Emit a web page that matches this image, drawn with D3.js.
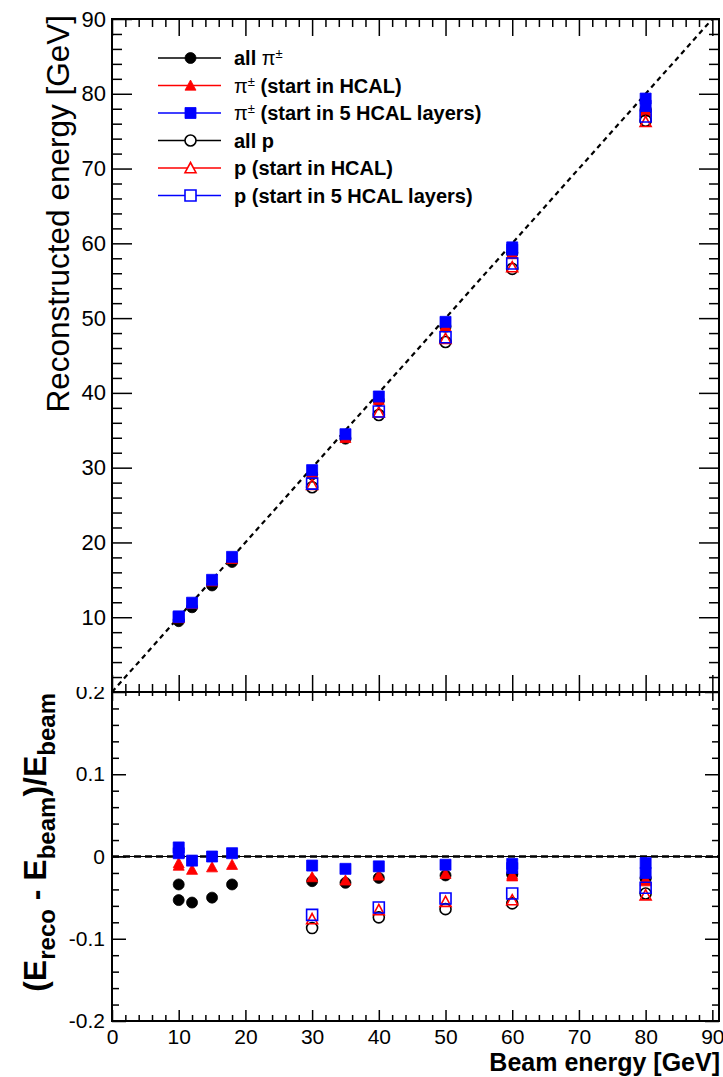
<!DOCTYPE html>
<html>
<head>
<meta charset="utf-8">
<script src="https://cdn.jsdelivr.net/npm/d3@7"></script>
<style>
  body { margin: 0; background: #fff; }
  svg { display: block; }
</style>
</head>
<body>
<svg id="chart"></svg>
<script>
(() => {
  const W = 723, H = 1077;
  const FONT = '"Liberation Sans", Arial, Helvetica, sans-serif';

  // ---- data (fractional residual (Ereco - Ebeam)/Ebeam)
  const beamPi = [10, 10, 12, 15, 18, 30, 35, 40, 50, 60, 60, 80, 80];
  const piAll  = [-0.034, -0.053, -0.056, -0.050, -0.034, -0.030, -0.032, -0.026, -0.023, -0.021, -0.022, -0.026, -0.027];
  const piHcal = [-0.008, -0.011, -0.016, -0.013, -0.010, -0.025, -0.029, -0.023, -0.021, -0.022, -0.024, -0.028, -0.030];
  const pi5    = [0.011, 0.004, -0.005, 0.000, 0.004, -0.011, -0.015, -0.012, -0.010, -0.009, -0.014, -0.008, -0.020];

  const beamP = [30, 40, 50, 60, 80];
  const pAll  = [-0.087, -0.074, -0.064, -0.057, -0.045];
  const pHcal = [-0.076, -0.065, -0.055, -0.053, -0.047];
  const p5    = [-0.071, -0.062, -0.051, -0.045, -0.038];

  const xTicks = [0, 10, 20, 30, 40, 50, 60, 70, 80, 90];
  const yTopTicks = [10, 20, 30, 40, 50, 60, 70, 80, 90];
  const yBotTicks = [-0.2, -0.1, 0, 0.1, 0.2];

  const series = [
    { beam: beamPi, frac: piAll,  shape: "circle",   color: "#000",    open: false, label: [["all ", "b"], ["π", "n"], ["±", "sup"]] },
    { beam: beamPi, frac: piHcal, shape: "triangle", color: "#ff0000", open: false, label: [["π", "n"], ["±", "sup"], [" (start in HCAL)", "b"]] },
    { beam: beamPi, frac: pi5,    shape: "square",   color: "#0000ff", open: false, label: [["π", "n"], ["±", "sup"], [" (start in 5 HCAL layers)", "b"]] },
    { beam: beamP,  frac: pAll,   shape: "circle",   color: "#000",    open: true,  label: [["all p", "b"]] },
    { beam: beamP,  frac: pHcal,  shape: "triangle", color: "#ff0000", open: true,  label: [["p (start in HCAL)", "b"]] },
    { beam: beamP,  frac: p5,     shape: "square",   color: "#0000ff", open: true,  label: [["p (start in 5 HCAL layers)", "b"]] }
  ];

  const svg = d3.select("#chart").attr("width", W).attr("height", H)
    .attr("viewBox", `0 0 ${W} ${H}`);

  const x = d3.scaleLinear().domain([0, 91]).range([112, 719]);
  const yTop = d3.scaleLinear().domain([0, 90]).range([692, 19]);
  const yBot = d3.scaleLinear().domain([-0.2, 0.2]).range([1021, 692]);

  const xMinor = d3.range(0, 91, 2).filter(v => v % 10 !== 0);
  const yTopMinor = d3.range(2, 91, 2).filter(v => v % 10 !== 0);
  const yBotMinor = d3.range(-10, 11).filter(i => i % 5 !== 0).map(i => i * 0.02);

  const fmtBot = d => d === 0 ? "0" : String(+d.toFixed(1));

  function addAxis(gen, tr, values, size, fmt, fontSize, pad) {
    const g = svg.append("g").attr("transform", tr)
      .call(gen.tickValues(values).tickSize(-size).tickSizeOuter(0)
        .tickPadding(pad || 3).tickFormat(fmt || (() => "")));
    g.select(".domain").remove();
    g.attr("font-family", FONT).attr("font-size", fontSize || 10);
    g.selectAll(".tick line").attr("stroke", "#000").attr("stroke-width", 1.5);
    g.selectAll(".tick text").attr("fill", "#000");
    return g;
  }

  function markerPath(shape, s) {
    const h = s / 2;
    if (shape === "square") return `M${-h},${-h}H${h}V${h}H${-h}Z`;
    if (shape === "triangle") return `M0,${-h}L${h},${h * 0.85}L${-h},${h * 0.85}Z`;
    return d3.symbol(d3.symbolCircle, Math.PI * h * h)();
  }

  function drawMarkers(g, s, yScale, valueOf) {
    g.append("g")
      .selectAll("path")
      .data(s.beam.map((b, i) => ({ b, v: valueOf(b, s.frac[i]) })))
      .join("path")
      .attr("transform", d => `translate(${x(d.b)},${yScale(d.v)})`)
      .attr("d", markerPath(s.shape, 11))
      .attr("fill", s.open ? "none" : s.color)
      .attr("stroke", s.color)
      .attr("stroke-width", s.open ? 1.6 : 0.8);
  }

  // ================= bottom panel =================
  addAxis(d3.axisLeft(yBot), "translate(112,0)", yBotTicks, 14, fmtBot, 21, 7);
  addAxis(d3.axisLeft(yBot), "translate(112,0)", yBotMinor, 7);
  addAxis(d3.axisRight(yBot), "translate(719,0)", yBotTicks, 14);
  addAxis(d3.axisRight(yBot), "translate(719,0)", yBotMinor, 7);
  addAxis(d3.axisBottom(x), "translate(0,1021)", xTicks, 11, d3.format("d"), 21, 8);
  addAxis(d3.axisBottom(x), "translate(0,1021)", xMinor, 6);
  addAxis(d3.axisTop(x), "translate(0,692)", xTicks, 9);
  addAxis(d3.axisTop(x), "translate(0,692)", xMinor, 4);

  const bot = svg.append("g");
  bot.append("line")
    .attr("x1", x(0)).attr("x2", x(91)).attr("y1", yBot(0)).attr("y2", yBot(0))
    .attr("stroke", "#000").attr("stroke-width", 1);
  bot.append("line")
    .attr("x1", x(0)).attr("x2", x(91)).attr("y1", yBot(0)).attr("y2", yBot(0))
    .attr("stroke", "#000").attr("stroke-width", 2.4).attr("stroke-dasharray", "7,4");
  series.forEach(s => drawMarkers(bot, s, yBot, (b, f) => f));

  bot.append("rect")
    .attr("x", x(0)).attr("y", yBot(0.2))
    .attr("width", x(91) - x(0)).attr("height", yBot(-0.2) - yBot(0.2))
    .attr("fill", "none").attr("stroke", "#000").attr("stroke-width", 2);

  svg.append("text")
    .attr("x", 720).attr("y", 1071)
    .attr("text-anchor", "end")
    .attr("font-family", FONT).attr("font-weight", "bold").attr("font-size", 25)
    .text("Beam energy [GeV]");

  // ================= top panel =================
  svg.append("rect").attr("x", 0).attr("y", 0).attr("width", W).attr("height", 687).attr("fill", "#fff");

  addAxis(d3.axisLeft(yTop), "translate(112,0)", yTopTicks, 20, d3.format("d"), 22, 6);
  addAxis(d3.axisLeft(yTop), "translate(112,0)", yTopMinor, 10);
  addAxis(d3.axisRight(yTop), "translate(719,0)", yTopTicks, 20);
  addAxis(d3.axisRight(yTop), "translate(719,0)", yTopMinor, 10);
  addAxis(d3.axisBottom(x), "translate(0,692)", xTicks, 17);
  addAxis(d3.axisBottom(x), "translate(0,692)", xMinor, 8);
  addAxis(d3.axisTop(x), "translate(0,19)", xTicks, 17);
  addAxis(d3.axisTop(x), "translate(0,19)", xMinor, 8);

  const top = svg.append("g");
  top.append("line")
    .attr("x1", x(0)).attr("y1", yTop(0)).attr("x2", x(90)).attr("y2", yTop(90))
    .attr("stroke", "#000").attr("stroke-width", 2.2).attr("stroke-dasharray", "5,4");
  series.forEach(s => drawMarkers(top, s, yTop, (b, f) => b * (1 + f)));

  top.append("rect")
    .attr("x", x(0)).attr("y", yTop(90))
    .attr("width", x(91) - x(0)).attr("height", yTop(0) - yTop(90))
    .attr("fill", "none").attr("stroke", "#000").attr("stroke-width", 2);

  svg.append("text")
    .attr("transform", "translate(69,15) rotate(-90)")
    .attr("text-anchor", "end")
    .attr("font-family", FONT).attr("font-size", 31.5)
    .text("Reconstructed energy [GeV]");

  // legend
  const LEG_X0 = 158, LEG_X1 = 221, LEG_TXT = 234, LEG_Y = 58, LEG_STEP = 27.5;
  const leg = svg.append("g").attr("font-family", FONT).attr("font-size", 20);
  series.forEach((s, i) => {
    const yy = LEG_Y + i * LEG_STEP;
    leg.append("line")
      .attr("x1", LEG_X0).attr("x2", LEG_X1).attr("y1", yy).attr("y2", yy)
      .attr("stroke", s.color).attr("stroke-width", 1.5);
    leg.append("path")
      .attr("transform", `translate(${(LEG_X0 + LEG_X1) / 2 + 1},${yy})`)
      .attr("d", markerPath(s.shape, 11))
      .attr("fill", s.open ? "#fff" : s.color)
      .attr("stroke", s.color).attr("stroke-width", s.open ? 1.6 : 0.8);
    const t = leg.append("text").attr("x", LEG_TXT).attr("y", yy + 7);
    let shift = 0;
    s.label.forEach(([str, kind]) => {
      const sp = t.append("tspan").text(str);
      if (kind === "b") sp.attr("font-weight", "bold");
      if (kind === "n") sp.attr("font-weight", "normal");
      const target = kind === "sup" ? -7 : 0;
      if (kind === "sup") sp.attr("font-size", 13);
      if (target !== shift) sp.attr("dy", target - shift);
      shift = target;
    });
  });

  // bottom y title (drawn last so the top pad does not hide it)
  const yt = svg.append("text")
    .attr("transform", "translate(46,693) rotate(-90)")
    .attr("text-anchor", "end")
    .attr("font-family", FONT).attr("font-weight", "bold").attr("font-size", 32);
  const parts = [["(E", 0], ["reco", 1], [" - E", 0], ["beam", 1], [")/E", 0], ["beam", 1]];
  let cur = 0;
  parts.forEach(([str, sub]) => {
    const target = sub ? 9 : 0;
    yt.append("tspan").attr("dy", target - cur).attr("font-size", sub ? 24 : 32).text(str);
    cur = target;
  });
})();
</script>
</body>
</html>
